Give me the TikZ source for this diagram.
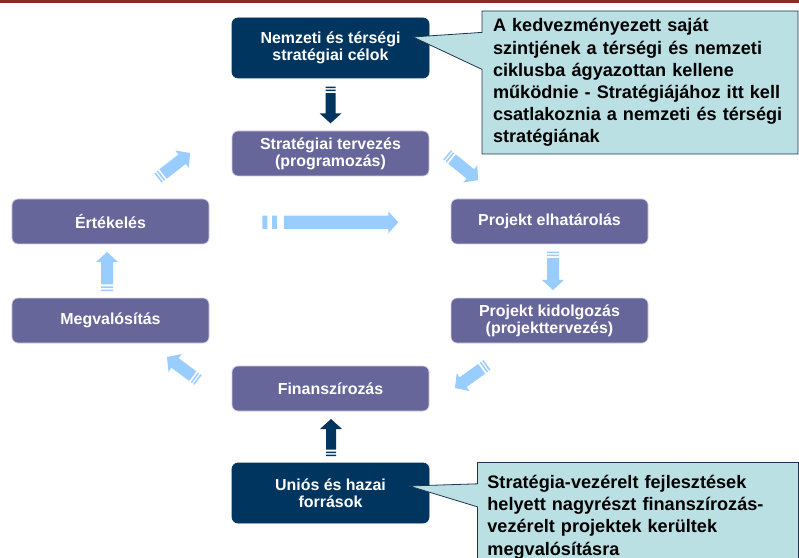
\documentclass[tikz,border=0pt]{standalone}
\usepackage{fontspec}
\setmainfont{Liberation Sans}
\usetikzlibrary{shapes.callouts}

\definecolor{phasefill}{HTML}{67669A}
\definecolor{sourcefill}{HTML}{00355F}
\definecolor{lightarrow}{HTML}{99CCFF}
\definecolor{notefill}{HTML}{BAE0E4}
\definecolor{noteline}{HTML}{1E3350}
\definecolor{topband}{HTML}{8C2B24}

\tikzset{
  pics/blockarrow/.style n args={3}{code={
    \fill (0,-#2) rectangle (1.5*#3,#2) (3*#3,-#2) rectangle (4.5*#3,#2);
    \fill (6.5*#3,-#2) -- (#1-10,-#2) -- (#1-10,-11) -- (#1,0)
          -- (#1-10,11) -- (#1-10,#2) -- (6.5*#3,#2) -- cycle;
  }}
}

\begin{document}
\begin{tikzpicture}[x=1bp, y=-1bp, node distance=99bp,
  phase/.style={rectangle, rounded corners=6bp, fill=phasefill,
    draw=white!70!phasefill, line width=0.7pt, text=white, align=center,
    font=\bfseries\fontsize{16}{17}\selectfont,
    minimum width=197bp, minimum height=45bp, inner sep=0pt},
  source/.style={phase, fill=sourcefill, draw=sourcefill, minimum height=60bp},
  note/.style={rectangle callout, fill=notefill, draw=noteline, line width=0.8pt,
    align=left, font=\bfseries\fontsize{18.2}{22.2}\selectfont}]

  \useasboundingbox (0,0) rectangle (799,558);
  \clip (0,0) rectangle (799,558);
  \fill[white] (0,0) rectangle (799,558);
  \fill[topband] (0,0) rectangle (799,3.5);

  \node[source] (nemz)    at (330.5,48)    {Nemzeti és térségi\\stratégiai célok};
  \node[phase]  (strat)   at (330.5,153.5) {Stratégiai tervezés\\(programozás)};
  \node[phase]  (ertek)   at (110.5,221.5) {Értékelés};
  \node[phase]  (megval)  [below of=ertek] {Megvalósítás};
  \node[phase]  (elhat)   at (549.5,221.5) {Projekt elhatárolás};
  \node[phase]  (kidolg)  [below of=elhat] {Projekt kidolgozás\\(projekttervezés)};
  \node[phase]  (finansz) at (330.5,388.5) {Finanszírozás};
  \node[source] (unios)   at (330.5,493)   {Uniós és hazai\\források};

  \pic[color=sourcefill, rotate=-90] at (330.5,86.7) {blockarrow={36.6}{5}{1}};
  \pic[color=sourcefill, rotate=90]  at (331,456)    {blockarrow={37}{5}{1}};
  \pic[color=lightarrow, rotate=90]  at (107,291)    {blockarrow={39}{6}{1}};
  \pic[color=lightarrow, rotate=-90] at (553,251.7)  {blockarrow={38.3}{6}{1}};
  \pic[color=lightarrow]             at (262.3,222.3) {blockarrow={136}{6.7}{3.3}};
  \pic[color=lightarrow, rotate=38]  at (158,178)    {blockarrow={40.6}{6}{1}};
  \pic[color=lightarrow, rotate=-39] at (447,155)    {blockarrow={40}{6}{1}};
  \pic[color=lightarrow, rotate=215.7] at (487,365)  {blockarrow={39.4}{6}{1}};
  \pic[color=lightarrow, rotate=143.4] at (198,380)  {blockarrow={38.6}{6}{1}};

  \node[note, callout absolute pointer={(413,37)}, callout pointer width=37bp,
        text width=294bp, inner xsep=11bp, minimum height=143bp]
        (goalnote) at (640,82.5)
        {A kedvezményezett saját\\szintjének a térségi és nemzeti\\ciklusba ágyazottan kellene\\működnie - Stratégiájához itt kell\\csatlakoznia a nemzeti és térségi\\stratégiának};
  \node[note, anchor=north west, callout absolute pointer={(409,486)},
        callout pointer width=23bp, text width=301bp, inner xsep=10bp, inner ysep=13bp]
        (fundnote) at (477,462)
        {Stratégia-vezérelt fejlesztések\\helyett nagyrészt finanszírozás-\\vezérelt projektek kerültek\\megvalósításra};
\end{tikzpicture}
\end{document}
